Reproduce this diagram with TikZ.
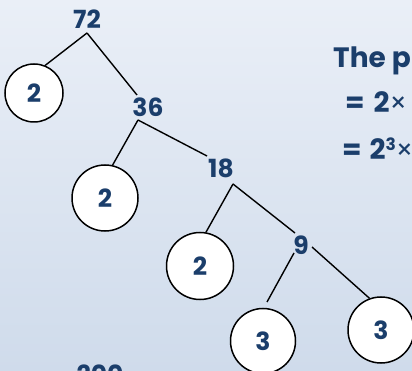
\documentclass[tikz,border=0pt]{standalone}
\usepackage{fontspec}
\setmainfont{Poppins}
\definecolor{navy}{RGB}{27,62,107}
\definecolor{bgtop}{RGB}{234,239,247}
\definecolor{bgbot}{RGB}{207,219,235}
\begin{document}
\begin{tikzpicture}[x=1pt,y=-1pt,
  num/.style={font=\fontsize{25}{25}\selectfont\bfseries, text=navy, inner sep=0pt},
  side/.style={font=\fontsize{28}{28}\selectfont\bfseries, text=navy, inner sep=0pt, anchor=base west},
  leaf/.style={circle, draw=black, line width=1.5pt, fill=white, inner sep=0pt,
    font=\fontsize{25}{25}\selectfont\bfseries, text=navy},
  edge/.style={draw=black, line width=1.4pt}]
\shade[top color=bgtop, bottom color=bgbot] (0,0) rectangle (412,371);
\useasboundingbox (0,0) rectangle (412,371);
\clip (0,0) rectangle (412,371);

% numbers
\node[num] (n72) at (87,19) {72};
\node[num] (n36) at (148,107) {36};
\node[num] (n18) at (221,168) {18};
\node[num] (n9) at (301,245) {9};

% leaves
\node[leaf, minimum size=58pt] (c1) at (34,93) {2};
\node[leaf, minimum size=66pt] (c2) at (105,198) {2};
\node[leaf, minimum size=67pt] (c3) at (200,266) {2};
\node[leaf, minimum size=65pt] (c4) at (263,341) {3};
\node[leaf, minimum size=66pt] (c5) at (381,330) {3};

% junction / end coordinates
\coordinate (j72) at (87,33);
\coordinate (t36) at (137,95);
\coordinate (j36) at (138,120);
\coordinate (t18) at (207,156);
\coordinate (j18) at (233,184);
\coordinate (t9) at (295,233);
\coordinate (l9) at (294,253);
\coordinate (e9) at (267,302);
\coordinate (r9) at (312,247);

\draw[edge] (j72) -- (c1.68);
\draw[edge] (j72) -- (t36);
\draw[edge] (j36) -- (c2.77);
\draw[edge] (j36) -- (t18);
\draw[edge] (j18) -- (c3.80);
\draw[edge] (j18) -- (t9);
\draw[edge] (l9) -- (e9);
\draw[edge] (r9) -- (c5.110);

% right text
\node[side] (s1) at (333,68) {The p};
\node[side] (s2) at (345,113) {=\hspace{9pt}2{\mdseries\fontsize{27}{27}\selectfont ×}};
\node[side] (s3) at (342,160) {=\hspace{8pt}2\raisebox{9pt}{\fontsize{17}{17}\selectfont 3}{\mdseries\fontsize{27}{27}\selectfont ×}};

% bottom number
\node[num, anchor=north] (n200) at (100,365) {200};
\end{tikzpicture}
\end{document}
